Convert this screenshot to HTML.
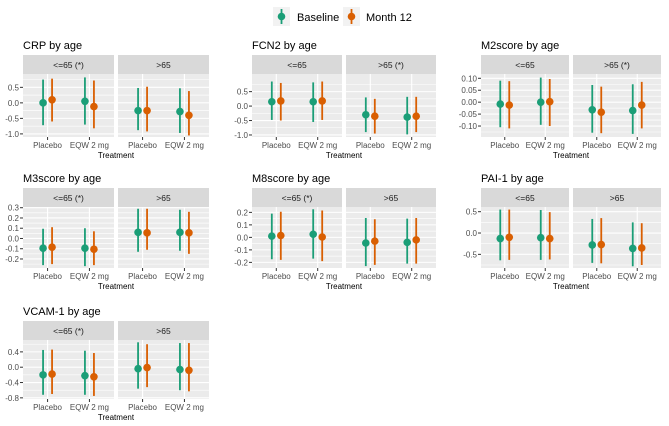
<!DOCTYPE html>
<html><head><meta charset="utf-8">
<style>
body{margin:0;background:#fff;width:669px;height:426px;overflow:hidden;font-family:"Liberation Sans",sans-serif}
svg{display:block}
</style></head>
<body>
<svg id="chart" width="669" height="426" xmlns="http://www.w3.org/2000/svg" font-family="Liberation Sans, sans-serif"></svg>
<script>
// Data: each array = 4 groups [<=65 Placebo, <=65 EQW, >65 Placebo, >65 EQW], each [mean, lo, hi]
const categories = ["Placebo", "EQW 2 mg"];
const facets = ["<=65", ">65"];
const crpBase = [[0.0,-0.72,0.75],[0.05,-0.7,0.82],[-0.25,-0.88,0.48],[-0.28,-0.97,0.47]];
const crpM12  = [[0.1,-0.6,0.78],[-0.12,-0.82,0.72],[-0.25,-0.92,0.52],[-0.4,-1.05,0.38]];
const crpTicks = [0.5,0.0,-0.5,-1.0];
const crpTickLabels = ["0.5","0.0","-0.5","-1.0"];
const fcnBase = [[0.15,-0.48,0.85],[0.15,-0.55,0.82],[-0.3,-0.9,0.3],[-0.38,-0.98,0.32]];
const fcnM12  = [[0.18,-0.5,0.8],[0.18,-0.48,0.85],[-0.35,-0.95,0.25],[-0.35,-0.9,0.32]];
const fcnTicks = [0.5,0.0,-0.5,-1.0];
const fcnTickLabels = ["0.5","0.0","-0.5","-1.0"];
const m2Base = [[-0.008,-0.105,0.09],[0.0,-0.095,0.103],[-0.032,-0.128,0.072],[-0.035,-0.133,0.075]];
const m2M12  = [[-0.012,-0.11,0.088],[0.002,-0.1,0.097],[-0.042,-0.13,0.065],[-0.012,-0.11,0.085]];
const m2Ticks = [0.1,0.05,0.0,-0.05,-0.1];
const m2TickLabels = ["0.10","0.05","0.00","-0.05","-0.10"];
const m3Base = [[-0.095,-0.26,0.095],[-0.095,-0.27,0.1],[0.06,-0.13,0.29],[0.06,-0.12,0.28]];
const m3M12  = [[-0.085,-0.25,0.11],[-0.105,-0.26,0.07],[0.055,-0.11,0.29],[0.055,-0.15,0.26]];
const m3Ticks = [0.3,0.2,0.1,0.0,-0.1,-0.2];
const m3TickLabels = ["0.3","0.2","0.1","0.0","-0.1","-0.2"];
const m8Base = [[0.01,-0.175,0.19],[0.025,-0.17,0.225],[-0.045,-0.23,0.155],[-0.04,-0.21,0.15]];
const m8M12  = [[0.015,-0.18,0.205],[0.003,-0.19,0.215],[-0.03,-0.22,0.145],[-0.02,-0.21,0.155]];
const m8Ticks = [0.2,0.1,0.0,-0.1,-0.2];
const m8TickLabels = ["0.2","0.1","0.0","-0.1","-0.2"];
const paiBase = [[-0.13,-0.64,0.55],[-0.11,-0.63,0.54],[-0.28,-0.7,0.33],[-0.36,-0.78,0.25]];
const paiM12  = [[-0.1,-0.63,0.55],[-0.13,-0.62,0.49],[-0.27,-0.71,0.35],[-0.35,-0.75,0.23]];
const paiTicks = [0.5,0.0,-0.5];
const paiTickLabels = ["0.5","0.0","-0.5"];
const vcamBase = [[-0.2,-0.72,0.45],[-0.22,-0.72,0.43],[-0.04,-0.56,0.65],[-0.06,-0.6,0.63]];
const vcamM12  = [[-0.18,-0.7,0.46],[-0.25,-0.75,0.37],[-0.01,-0.52,0.6],[-0.08,-0.63,0.63]];
const vcamTicks = [0.4,0.0,-0.4,-0.8];
const vcamTickLabels = ["0.4","0.0","-0.4","-0.8"];

const GREEN="#1b9e77", ORANGE="#d95f02";
const svg=document.getElementById('chart');
const NS="http://www.w3.org/2000/svg";
function mk(tag,attrs,parent){const e=document.createElementNS(NS,tag);for(const k in attrs)e.setAttribute(k,attrs[k]);(parent||svg).appendChild(e);return e;}

function panel(o){
  const g=mk('g',{});
  
  
  const t=mk('text',{x:o.left,y:o.top-6,'font-size':11,fill:'#000'},g);t.textContent=o.title;
  
  
  const sTop=o.top, pTop=o.top+19, pBot=o.bottom;
  const y=v=>pTop+(o.ymax-v)/(o.ymax-o.ymin)*(pBot-pTop);
  const stripLabels=o.strips;
  for(let f=0;f<2;f++){
    const x0=o.left+f*(o.w+4);
    const s=mk('rect',{x:x0,y:sTop,width:o.w,height:19,fill:'#d9d9d9'},g);
    
    
    const st=mk('text',{x:x0+o.w/2,y:sTop+13,'font-size':8.5,fill:'#1a1a1a','text-anchor':'middle'},g);st.textContent=stripLabels[f];
    
    
    mk('rect',{x:x0,y:pTop,width:o.w,height:pBot-pTop,fill:'#ebebeb'},g);
    // minor grid
    for(let i=0;i<o.ticks.length;i++){
      const step=o.ticks.length>1?(o.ticks[0]-o.ticks[1]):0.5;
      for(const mv of [o.ticks[i]+step/2, o.ticks[i]-step/2]){
        const yy=y(mv); if(yy>pTop&&yy<pBot) mk('line',{x1:x0,x2:x0+o.w,y1:yy,y2:yy,stroke:'#fff','stroke-width':0.5},g);
      }
    }
    o.ticks.forEach(v=>{const yy=y(v);if(yy>=pTop&&yy<=pBot)mk('line',{x1:x0,x2:x0+o.w,y1:yy,y2:yy,stroke:'#fff','stroke-width':1.1},g);});
    const cx=i=>x0+o.w*(0.6+1.6*i)/3.2*1+0; // discrete scale positions
    for(let c=0;c<2;c++){
      const xc=x0+o.w*(c===0?0.27:0.73);
      mk('line',{x1:xc,x2:xc,y1:pTop,y2:pBot,stroke:'#fff','stroke-width':1.1},g);
      mk('line',{x1:xc,x2:xc,y1:pBot,y2:pBot+3,stroke:'#333','stroke-width':1},g);
      const tl=mk('text',{x:xc,y:pBot+11,'font-size':8,fill:'#4d4d4d','text-anchor':'middle'},g);tl.textContent=categories[c];
      
      
      const idx=f*2+c;
      [[o.base[idx],-4.5,GREEN,'baseline'],[o.m12[idx],4.5,ORANGE,'month12']].forEach(([d,dx,col,nm])=>{
        const xx=xc+dx;
        const ln=mk('line',{x1:xx,x2:xx,y1:y(d[1]),y2:y(d[2]),stroke:col,'stroke-width':1.8},g);
        
        
        const pt=mk('circle',{cx:xx,cy:y(d[0]),r:3.8,fill:col},g);
        
        
      });
    }
  }
  o.ticks.forEach((v,i)=>{const yy=y(v);
    mk('line',{x1:o.left-3,x2:o.left,y1:yy,y2:yy,stroke:'#333','stroke-width':1},g);
    const tl=mk('text',{x:o.left-4,y:yy+3,'font-size':8,fill:'#4d4d4d','text-anchor':'end'},g);tl.textContent=o.tickLabels[i];
    
    
  });
  const xt=mk('text',{x:o.left+o.w+2,y:pBot+21,'font-size':8,fill:'#000','text-anchor':'middle'},g);xt.textContent='Treatment';
  
  
}

panel({name:'crp',title:'CRP by age',left:23,w:91,top:55,bottom:137,ymin:-1.1,ymax:0.93,ticks:crpTicks,tickLabels:crpTickLabels,base:crpBase,m12:crpM12,strips:['<=65  (*)','>65']});
panel({name:'fcn2',title:'FCN2 by age',left:252,w:90,top:55,bottom:137,ymin:-1.07,ymax:1.11,ticks:fcnTicks,tickLabels:fcnTickLabels,base:fcnBase,m12:fcnM12,strips:['<=65','>65 (*)']});
panel({name:'m2score',title:'M2score by age',left:481,w:88,top:55,bottom:137,ymin:-0.146,ymax:0.118,ticks:m2Ticks,tickLabels:m2TickLabels,base:m2Base,m12:m2M12,strips:['<=65','>65  (*)']});
panel({name:'m3score',title:'M3score by age',left:23,w:91,top:188,bottom:268,ymin:-0.288,ymax:0.307,ticks:m3Ticks,tickLabels:m3TickLabels,base:m3Base,m12:m3M12,strips:['<=65  (*)','>65']});
panel({name:'m8score',title:'M8score by age',left:252,w:90,top:188,bottom:268,ymin:-0.245,ymax:0.243,ticks:m8Ticks,tickLabels:m8TickLabels,base:m8Base,m12:m8M12,strips:['<=65  (*)','>65']});
panel({name:'pai1',title:'PAI-1 by age',left:481,w:88,top:188,bottom:268,ymin:-0.82,ymax:0.61,ticks:paiTicks,tickLabels:paiTickLabels,base:paiBase,m12:paiM12,strips:['<=65','>65']});
panel({name:'vcam1',title:'VCAM-1 by age',left:23,w:91,top:321,bottom:399,ymin:-0.83,ymax:0.71,ticks:vcamTicks,tickLabels:vcamTickLabels,base:vcamBase,m12:vcamM12,strips:['<=65  (*)','>65']});

// legend
const lg=mk('g',{});


[[273,GREEN,'Baseline',297],[343,ORANGE,'Month 12',366]].forEach(([x,col,lab,tx])=>{
  const e=mk('g',{},lg);
  
  
  mk('rect',{x:x,y:7,width:17,height:19,fill:'#f2f2f2'},e);
  mk('line',{x1:x+8.5,x2:x+8.5,y1:9,y2:24,stroke:col,'stroke-width':1.8},e);
  mk('circle',{cx:x+8.5,cy:16.5,r:3.8,fill:col},e);
  const t=mk('text',{x:tx,y:21,'font-size':11,fill:'#000'},e);t.textContent=lab;
});
</script>
</body></html>
